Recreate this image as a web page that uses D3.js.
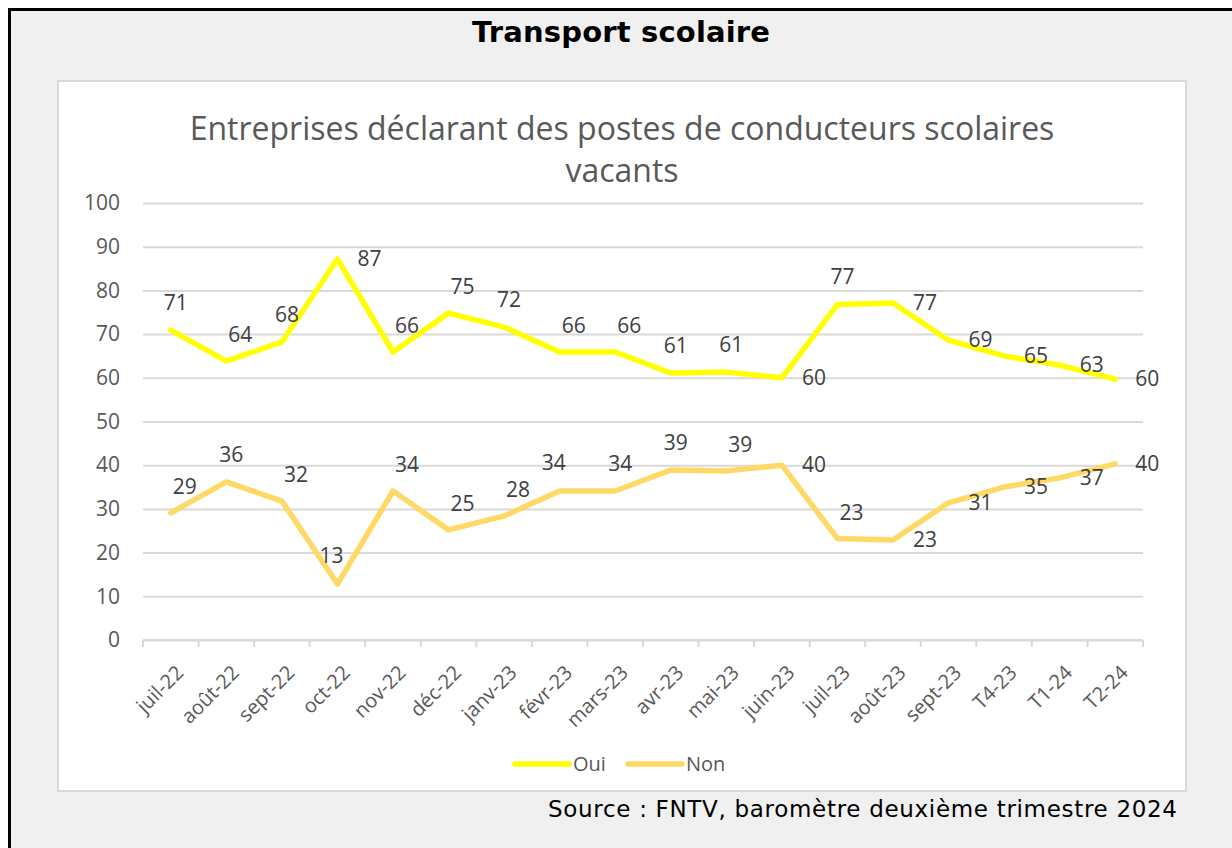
<!DOCTYPE html>
<html>
<head>
<meta charset="utf-8">
<script src="https://cdn.jsdelivr.net/npm/d3@7"></script>
<style>
  body { margin: 0; background: #fff; }
</style>
</head>
<body>
<script>
'use strict';

// categories (x axis)
const months = ['juil-22', 'août-22', 'sept-22', 'oct-22', 'nov-22', 'déc-22', 'janv-23', 'févr-23',
  'mars-23', 'avr-23', 'mai-23', 'juin-23', 'juil-23', 'août-23', 'sept-23', 'T4-23', 'T1-24', 'T2-24'];

// series values
const oui = [70.9, 63.8, 68.2, 87.2, 65.9, 74.8, 71.6, 65.9, 65.9, 61.1, 61.3, 60.0, 76.8, 77.1, 68.6, 65.0, 62.9, 59.7];
const non = [29.1, 36.2, 31.8, 12.8, 34.1, 25.2, 28.4, 34.1, 34.1, 38.9, 38.7, 40.0, 23.2, 22.9, 31.4, 35.0, 37.1, 40.3];

// where each data label sits relative to its point
const ouiPlace = ['a', 'ar', 'a', 'r', 'ar', 'ar', 'a', 'ar', 'ar', 'a', 'a', 'r', 'a', 'r', 'r', 'r', 'r', 'r'];
const nonPlace = ['ar', 'a', 'ar', 'al', 'ar', 'ar', 'ar', 'al', 'a', 'a', 'ar', 'r', 'ar', 'r', 'r', 'r', 'r', 'r'];

const yTicks = [0, 10, 20, 30, 40, 50, 60, 70, 80, 90, 100];

const seriesNames = ['Oui', 'Non'];
const seriesColors = ['#ffff00', '#ffd966'];

const W = 1232, H = 848;
const svg = d3.select('body').append('svg')
  .attr('width', W)
  .attr('height', H);

// outer frame
svg.append('rect')
  .attr('x', 9.5).attr('y', 9.5)
  .attr('width', W + 20).attr('height', H + 20)
  .attr('fill', '#f0f0f0')
  .attr('stroke', '#000')
  .attr('stroke-width', 3);

svg.append('text')
  .attr('x', 621).attr('y', 42)
  .attr('text-anchor', 'middle')
  .attr('textLength', 298)
  .style('font', 'bold 29px "DejaVu Sans", Verdana, sans-serif')
  .text('Transport scolaire');

// chart box
svg.append('rect')
  .attr('x', 58).attr('y', 81)
  .attr('width', 1128).attr('height', 710)
  .attr('fill', '#fff')
  .attr('stroke', '#d9d9d9')
  .attr('stroke-width', 2);

// chart title
const title = svg.append('text')
  .attr('text-anchor', 'middle')
  .attr('fill', '#595959')
  .style('font', '32px "Open Sans", sans-serif');
title.append('tspan').attr('x', 622).attr('y', 140).text('Entreprises déclarant des postes de conducteurs scolaires');
title.append('tspan').attr('x', 622).attr('y', 182).text('vacants');

// scales
const x = d3.scaleBand().domain(months).range([143, 1143]).padding(0);
const y = d3.scaleLinear().domain([0, 100]).range([640, 203]);
const cx = d => x(d) + x.bandwidth() / 2;

// gridlines
const gy = svg.append('g').attr('transform', 'translate(1143,0)');
gy.call(d3.axisLeft(y).tickValues(yTicks).tickSize(1000).tickFormat(''));
gy.select('.domain').remove();
gy.selectAll('line').attr('stroke', '#d9d9d9').attr('stroke-width', 2);

// y labels
const gl = svg.append('g').attr('transform', 'translate(143,0)');
gl.call(d3.axisLeft(y).tickValues(yTicks).tickSize(0).tickPadding(23));
gl.select('.domain').remove();
gl.selectAll('text')
  .attr('fill', '#595959')
  .style('font', '21px "Open Sans", sans-serif');

// x axis line with ticks between categories
const gx = svg.append('g').attr('transform', 'translate(0,640)');
gx.append('line')
  .attr('x1', 143).attr('x2', 1143)
  .attr('stroke', '#d9d9d9').attr('stroke-width', 2);
gx.selectAll('.tk')
  .data(months.concat(['__end']))
  .enter().append('line')
  .attr('x1', (d, i) => i < months.length ? x(d) : 1143)
  .attr('x2', (d, i) => i < months.length ? x(d) : 1143)
  .attr('y1', 0).attr('y2', 7)
  .attr('stroke', '#d9d9d9').attr('stroke-width', 2);

gx.selectAll('.xl')
  .data(months)
  .enter().append('text')
  .attr('text-anchor', 'end')
  .attr('fill', '#595959')
  .style('font', '20px "Open Sans", sans-serif')
  .attr('transform', d => 'translate(' + (cx(d) + 14) + ',34)rotate(-45)')
  .text(d => d);

// lines
const line = d3.line().x((d, i) => cx(months[i])).y(d => y(d));
[oui, non].forEach((vals, k) => {
  svg.append('path')
    .datum(vals)
    .attr('d', line)
    .attr('fill', 'none')
    .attr('stroke', seriesColors[k])
    .attr('stroke-width', 5.5)
    .attr('stroke-linejoin', 'round')
    .attr('stroke-linecap', 'round');
});

// data labels
const offsets = {
  a: [5, -20],
  ar: [14, -19],
  al: [-6, -21],
  r: [32, 7]
};
function drawLabels(vals, place) {
  svg.append('g').selectAll('text')
    .data(vals)
    .enter().append('text')
    .attr('text-anchor', 'middle')
    .attr('fill', '#404040')
    .style('font', '21px "Open Sans", sans-serif')
    .attr('x', (d, i) => cx(months[i]) + offsets[place[i]][0])
    .attr('y', (d, i) => y(d) + offsets[place[i]][1])
    .text(d => Math.round(d));
}
drawLabels(oui, ouiPlace);
drawLabels(non, nonPlace);

// legend
const legendX = [515, 628];
const lg = svg.append('g');
seriesNames.forEach((name, k) => {
  lg.append('line')
    .attr('x1', legendX[k]).attr('x2', legendX[k] + 54)
    .attr('y1', 764).attr('y2', 764)
    .attr('stroke', seriesColors[k])
    .attr('stroke-width', 5.5)
    .attr('stroke-linecap', 'round');
  lg.append('text')
    .attr('x', legendX[k] + 58).attr('y', 771)
    .attr('fill', '#595959')
    .style('font', '20px "Open Sans", sans-serif')
    .text(name);
});

// source
svg.append('text')
  .attr('x', 1177).attr('y', 817)
  .attr('text-anchor', 'end')
  .attr('textLength', 629)
  .style('font', '23px "DejaVu Sans", Verdana, sans-serif')
  .text('Source : FNTV, baromètre deuxième trimestre 2024');
</script>
</body>
</html>
